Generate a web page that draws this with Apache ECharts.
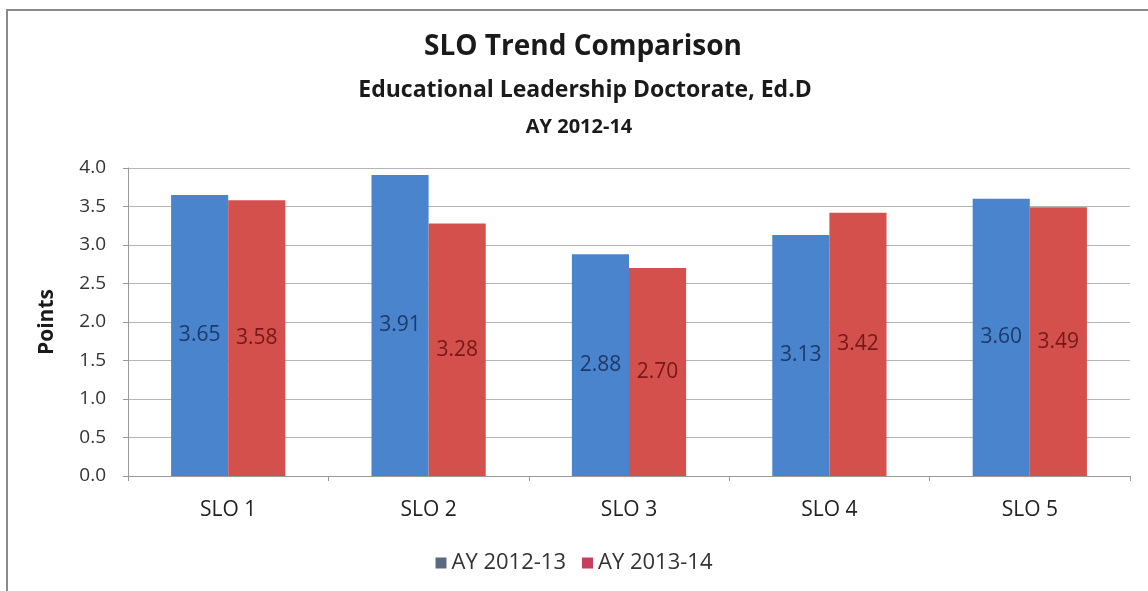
<!DOCTYPE html>
<html>
<head>
<meta charset="utf-8">
<script src="https://cdn.jsdelivr.net/npm/echarts@6/dist/echarts.min.js"></script>
<style>
html,body{margin:0;padding:0;background:#fff;}
#chart{width:1148px;height:591px;}
</style>
</head>
<body>
<div id="chart"></div>
<script>
const categories = ['SLO 1', 'SLO 2', 'SLO 3', 'SLO 4', 'SLO 5'];
const seriesNames = ['AY 2012-13', 'AY 2013-14'];
const ay1213 = [3.65, 3.91, 2.88, 3.13, 3.60];
const ay1314 = [3.58, 3.28, 2.70, 3.42, 3.49];

const FONT = '"Open Sans", "Noto Sans", sans-serif';
const chart = echarts.init(document.getElementById('chart'));

function labelCfg(color) {
  return {
    show: true,
    position: 'inside',
    color: color,
    fontFamily: FONT,
    fontSize: 21,
    formatter: p => p.value.toFixed(2)
  };
}

chart.setOption({
  backgroundColor: '#ffffff',
  animation: false,
  graphic: [
    { type: 'line', shape: { x1: 6, y1: 10, x2: 1148, y2: 10 }, style: { stroke: '#8a8a8a', lineWidth: 2 } },
    { type: 'line', shape: { x1: 7, y1: 10, x2: 7, y2: 591 }, style: { stroke: '#8a8a8a', lineWidth: 2 } }
  ],
  title: [
    { text: 'SLO Trend Comparison', left: 578, textAlign: 'center', top: 28,
      textStyle: { fontFamily: FONT, fontSize: 28, fontWeight: 'bold', color: '#1a1a1a' } },
    { text: 'Educational Leadership Doctorate, Ed.D', left: 580, textAlign: 'center', top: 74,
      textStyle: { fontFamily: FONT, fontSize: 23, fontWeight: 'bold', color: '#1a1a1a' } },
    { text: 'AY 2012-14', left: 574, textAlign: 'center', top: 112,
      textStyle: { fontFamily: FONT, fontSize: 20, fontWeight: 'bold', color: '#1a1a1a' } }
  ],
  legend: {
    bottom: 12,
    left: 'center',
    itemWidth: 11,
    itemHeight: 11,
    itemGap: 16,
    icon: 'rect',
    textStyle: { fontFamily: FONT, fontSize: 22, color: '#333' },
    data: [
      { name: seriesNames[0], itemStyle: { color: '#5c6a80' } },
      { name: seriesNames[1], itemStyle: { color: '#c63f5c' } }
    ]
  },
  grid: { left: 128, right: 18, top: 168, bottom: 115, containLabel: false },
  xAxis: {
    type: 'category',
    data: categories,
    axisLine: { lineStyle: { color: '#9a9a9a' } },
    axisTick: { show: true, length: 5, lineStyle: { color: '#9a9a9a' } },
    axisLabel: { fontFamily: FONT, fontSize: 21, color: '#222', margin: 24 }
  },
  yAxis: {
    type: 'value',
    min: 0,
    max: 4,
    interval: 0.5,
    name: 'Points',
    nameLocation: 'middle',
    nameGap: 70,
    nameTextStyle: { fontFamily: FONT, fontSize: 21, fontWeight: 'bold', color: '#1a1a1a' },
    axisLine: { show: true, lineStyle: { color: '#9a9a9a' } },
    axisTick: { show: true, length: 5, lineStyle: { color: '#9a9a9a' } },
    axisLabel: { fontFamily: FONT, fontSize: 19, color: '#333', margin: 22, formatter: v => v.toFixed(1) },
    splitLine: { lineStyle: { color: '#b4b4b4' } }
  },
  series: [
    {
      name: seriesNames[0], type: 'bar', data: ay1213,
      barGap: '0%', barCategoryGap: '43%',
      itemStyle: { color: '#4a84cc' },
      label: labelCfg('#1c3a6c')
    },
    {
      name: seriesNames[1], type: 'bar', data: ay1314,
      itemStyle: { color: '#d4504c' },
      label: labelCfg('#761818')
    }
  ]
});
</script>
</body>
</html>
